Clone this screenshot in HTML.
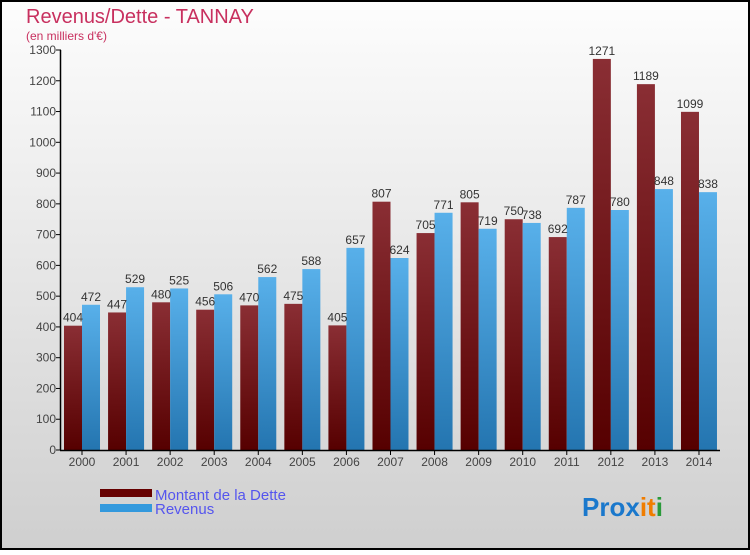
<!DOCTYPE html>
<html><head><meta charset="utf-8"><style>
body{margin:0;width:750px;height:550px;overflow:hidden;font-family:"Liberation Sans",sans-serif}
</style></head><body>
<svg id="c" width="750" height="550" xmlns="http://www.w3.org/2000/svg">
<defs>
<linearGradient id="bg" x1="0" y1="0" x2="0" y2="1"><stop offset="0" stop-color="#fdfdfd"/><stop offset="1" stop-color="#cfcfcf"/></linearGradient>
<linearGradient id="gd" x1="0" y1="0" x2="0" y2="1"><stop offset="0" stop-color="#8a2e34"/><stop offset="1" stop-color="#560000"/></linearGradient>
<linearGradient id="gr" x1="0" y1="0" x2="0" y2="1"><stop offset="0" stop-color="#58b0ea"/><stop offset="1" stop-color="#2475b0"/></linearGradient>
</defs>
<rect x="1" y="1" width="748" height="548" fill="url(#bg)" stroke="#000" stroke-width="2"/>
<text x="26" y="23" font-size="20" fill="#c8305f">Revenus/Dette - TANNAY</text>
<text x="26" y="40" font-size="12" fill="#c8305f">(en milliers d'€)</text>
<g id="plot"></g>
<rect x="100" y="489" width="52" height="8" fill="#660000"/>
<rect x="100" y="504" width="52" height="8" fill="#3399dd"/>
<text x="155" y="500" font-size="15" fill="#5555ee">Montant de la Dette</text>
<text x="155" y="514" font-size="15" fill="#5555ee">Revenus</text>
<text x="582" y="516" font-size="26" font-weight="bold"><tspan fill="#1a78cc">Pro</tspan><tspan fill="#1a78cc">x</tspan><tspan fill="#f07d00">i</tspan><tspan fill="#f07d00">t</tspan><tspan fill="#2a9a3a">i</tspan></text>
</svg>
<script>
const years=["2000","2001","2002","2003","2004","2005","2006","2007","2008","2009","2010","2011","2012","2013","2014"];
const dette=[404,447,480,456,470,475,405,807,705,805,750,692,1271,1189,1099];
const revenus=[472,529,525,506,562,588,657,624,771,719,738,787,780,848,838];
const yTicks=[0,100,200,300,400,500,600,700,800,900,1000,1100,1200,1300];
const NS="http://www.w3.org/2000/svg";
const g=document.getElementById('plot');
const y0=450,yTop=50,yMax=1300;
const y=v=>y0-(v/yMax)*(y0-yTop);
const x=i=>82+i*44.07;
function mk(t,a){const e=document.createElementNS(NS,t);for(const k in a)e.setAttribute(k,a[k]);g.appendChild(e);return e;}
yTicks.forEach(t=>{
 const l=mk('line',{x1:56,x2:61,y1:y(t),y2:y(t),stroke:'#000'});
 
 
 const tx=mk('text',{x:56,y:y(t)+4,'font-size':12,fill:'#444','text-anchor':'end'});tx.textContent=t;
 
 
});
years.forEach((yr,i)=>{
 const cx=x(i);
 const b1=mk('rect',{x:cx-18,y:y(dette[i]),width:18,height:y0-y(dette[i]),fill:'url(#gd)'});
 
 
 const b2=mk('rect',{x:cx,y:y(revenus[i]),width:18,height:y0-y(revenus[i]),fill:'url(#gr)'});
 
 
 const t1=mk('text',{x:cx-9,y:y(dette[i])-4,'font-size':12,fill:'#333','text-anchor':'middle'});t1.textContent=dette[i];
 
 
 const t2=mk('text',{x:cx+9,y:y(revenus[i])-4,'font-size':12,fill:'#333','text-anchor':'middle'});t2.textContent=revenus[i];
 
 
 const tk=mk('line',{x1:cx,x2:cx,y1:450,y2:455,stroke:'#000'});
 
 
 const xl=mk('text',{x:cx,y:466,'font-size':12,fill:'#444','text-anchor':'middle'});xl.textContent=yr;
 
 
});
const ax=mk('line',{x1:60.5,x2:60.5,y1:50,y2:450,stroke:'#000','stroke-width':1.5});


const axx=mk('line',{x1:60,x2:720,y1:450.5,y2:450.5,stroke:'#000','stroke-width':1.5});


</script>
</body></html>
